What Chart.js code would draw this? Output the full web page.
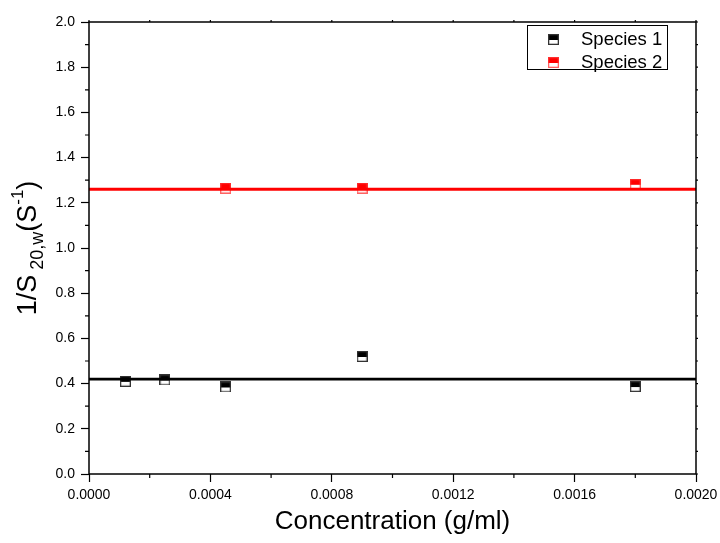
<!DOCTYPE html>
<html>
<head>
<meta charset="utf-8">
<script src="https://cdn.jsdelivr.net/npm/chart.js@4.4.0/dist/chart.umd.min.js"></script>
<style>
  html, body { margin: 0; padding: 0; background: #fff; }
  #wrap { width: 720px; height: 543px; }
</style>
</head>
<body>
<div id="wrap"><canvas id="c" width="720" height="543"></canvas></div>
<script>
// measured points
const conc1 = [0.00012, 0.00025, 0.00045, 0.0009, 0.0018];
const invS1 = [0.41, 0.416, 0.385, 0.52, 0.387];
const conc2 = [0.00045, 0.0009, 0.0018];
const invS2 = [1.265, 1.265, 1.282];

// horizontal fits
const fitRange = [0, 0.002];
const fit1 = 0.42;
const fit2 = 1.26;

const seriesNames = ['Species 1', 'Species 2'];
const xTicks = [0, 0.0004, 0.0008, 0.0012, 0.0016, 0.002];
const yTicks = [0, 0.2, 0.4, 0.6, 0.8, 1.0, 1.2, 1.4, 1.6, 1.8, 2.0];

const FONT = '"Liberation Sans", Arial, sans-serif';

// half-filled square marker
function halfSquare(fill, edge) {
    const s = 11;
    const cv = document.createElement('canvas');
    cv.width = s; cv.height = s;
    const g = cv.getContext('2d');
    g.fillStyle = '#fff';
    g.fillRect(0, 0, s, s);
    g.fillStyle = fill;
    g.fillRect(0, 0, s, 6);
    g.strokeStyle = edge;
    g.lineWidth = 1.3;
    g.strokeRect(0.65, 0.65, s - 1.3, s - 1.3);
    return cv;
}
const mark1 = halfSquare('#000', '#333');
const mark2 = halfSquare('#ff0000', 'rgba(255,60,60,0.8)');

const pts = (xs, ys) => xs.map((x, i) => ({ x: x, y: ys[i] }));

// frame, minor ticks, axis titles and legend
const decorations = {
    id: 'decorations',
    afterDraw(chart) {
        const ctx = chart.ctx;
        const a = chart.chartArea;
        const xs = chart.scales.x, ys = chart.scales.y;
        ctx.save();
        ctx.strokeStyle = '#000';
        ctx.lineWidth = 1.5;
        ctx.strokeRect(a.left, a.top, a.right - a.left, a.bottom - a.top);

        ctx.lineWidth = 1.2;
        ctx.beginPath();
        for (let i = 0; i < yTicks.length - 1; i++) {
            const py = ys.getPixelForValue((yTicks[i] + yTicks[i + 1]) / 2);
            ctx.moveTo(a.left - 4, py); ctx.lineTo(a.left, py);
            ctx.moveTo(a.right, py); ctx.lineTo(a.right + 2, py);
        }
        for (const v of yTicks) {
            const py = ys.getPixelForValue(v);
            ctx.moveTo(a.right, py); ctx.lineTo(a.right + 2, py);
        }
        for (let i = 0; i < xTicks.length - 1; i++) {
            const px = xs.getPixelForValue((xTicks[i] + xTicks[i + 1]) / 2);
            ctx.moveTo(px, a.bottom); ctx.lineTo(px, a.bottom + 4);
            ctx.moveTo(px, a.top); ctx.lineTo(px, a.top - 2);
        }
        for (const v of xTicks) {
            const px = xs.getPixelForValue(v);
            ctx.moveTo(px, a.top); ctx.lineTo(px, a.top - 2);
        }
        ctx.stroke();

        // x title
        ctx.fillStyle = '#000';
        ctx.textAlign = 'center';
        ctx.textBaseline = 'middle';
        ctx.font = '26px ' + FONT;
        ctx.fillText('Concentration (g/ml)', (a.left + a.right) / 2, 522);

        // y title with sub/superscripts
        const parts = [
            { t: '1/S', size: 27, dy: 0 },
            { t: ' 20,w', size: 18, dy: 9 },
            { t: '(S', size: 27, dy: 0 },
            { t: '-1', size: 17, dy: -11 },
            { t: ')', size: 27, dy: 0 }
        ];
        let total = 0;
        for (const p of parts) { ctx.font = p.size + 'px ' + FONT; p.w = ctx.measureText(p.t).width; total += p.w; }
        ctx.translate(29, (a.top + a.bottom) / 2);
        ctx.rotate(-Math.PI / 2);
        ctx.textAlign = 'left';
        let cx = -total / 2;
        for (const p of parts) {
            ctx.font = p.size + 'px ' + FONT;
            ctx.fillText(p.t, cx, p.dy);
            cx += p.w;
        }
        ctx.setTransform(1, 0, 0, 1, 0, 0);

        // legend box
        ctx.lineWidth = 1;
        ctx.strokeStyle = '#000';
        ctx.strokeRect(527.5, 25.5, 140, 44);
        const marks = [mark1, mark2];
        ctx.font = '18.5px ' + FONT;
        ctx.textAlign = 'left';
        seriesNames.forEach((name, i) => {
            const yy = 39 + i * 23;
            ctx.drawImage(marks[i], 548, yy - 5);
            ctx.fillText(name, 581, yy + 1);
        });
        ctx.restore();
    }
};

new Chart(document.getElementById('c'), {
    type: 'scatter',
    data: {
        datasets: [
            {
                label: seriesNames[0] + ' fit',
                data: pts(fitRange, [fit1, fit1]),
                showLine: true,
                borderColor: '#000',
                borderWidth: 2.8,
                pointRadius: 0
            },
            {
                label: seriesNames[1] + ' fit',
                data: pts(fitRange, [fit2, fit2]),
                showLine: true,
                borderColor: '#ff0000',
                borderWidth: 3,
                pointRadius: 0
            },
            {
                label: seriesNames[0],
                data: pts(conc1, invS1),
                pointStyle: mark1,
                pointRadius: 6
            },
            {
                label: seriesNames[1],
                data: pts(conc2, invS2),
                pointStyle: mark2,
                pointRadius: 6
            }
        ]
    },
    options: {
        responsive: false,
        animation: false,
        devicePixelRatio: 1,
        layout: { padding: { left: 0, top: 22, right: 24, bottom: 0 } },
        plugins: { legend: { display: false }, tooltip: { enabled: false } },
        scales: {
            x: {
                type: 'linear',
                min: 0, max: 0.002,
                afterFit: s => { s.height = 69; s.paddingLeft = 0; s.paddingRight = 0; },
                afterBuildTicks: s => { s.ticks = xTicks.map(v => ({ value: v })); },
                grid: { drawOnChartArea: false, drawTicks: true, tickLength: 8, tickColor: '#000', tickWidth: 1.2 },
                border: { display: false },
                ticks: {
                    color: '#000',
                    font: { family: FONT, size: 14 },
                    padding: 5,
                    maxRotation: 0,
                    callback: v => v.toFixed(4)
                }
            },
            y: {
                min: 0, max: 2,
                afterFit: s => { s.width = 89; s.paddingTop = 0; s.paddingBottom = 0; },
                afterBuildTicks: s => { s.ticks = yTicks.map(v => ({ value: v })); },
                grid: { drawOnChartArea: false, drawTicks: true, tickLength: 8, tickColor: '#000', tickWidth: 1.2 },
                border: { display: false },
                ticks: {
                    color: '#000',
                    font: { family: FONT, size: 14 },
                    padding: 6,
                    callback: v => v.toFixed(1)
                }
            }
        }
    },
    plugins: [decorations]
});
</script>
</body>
</html>
